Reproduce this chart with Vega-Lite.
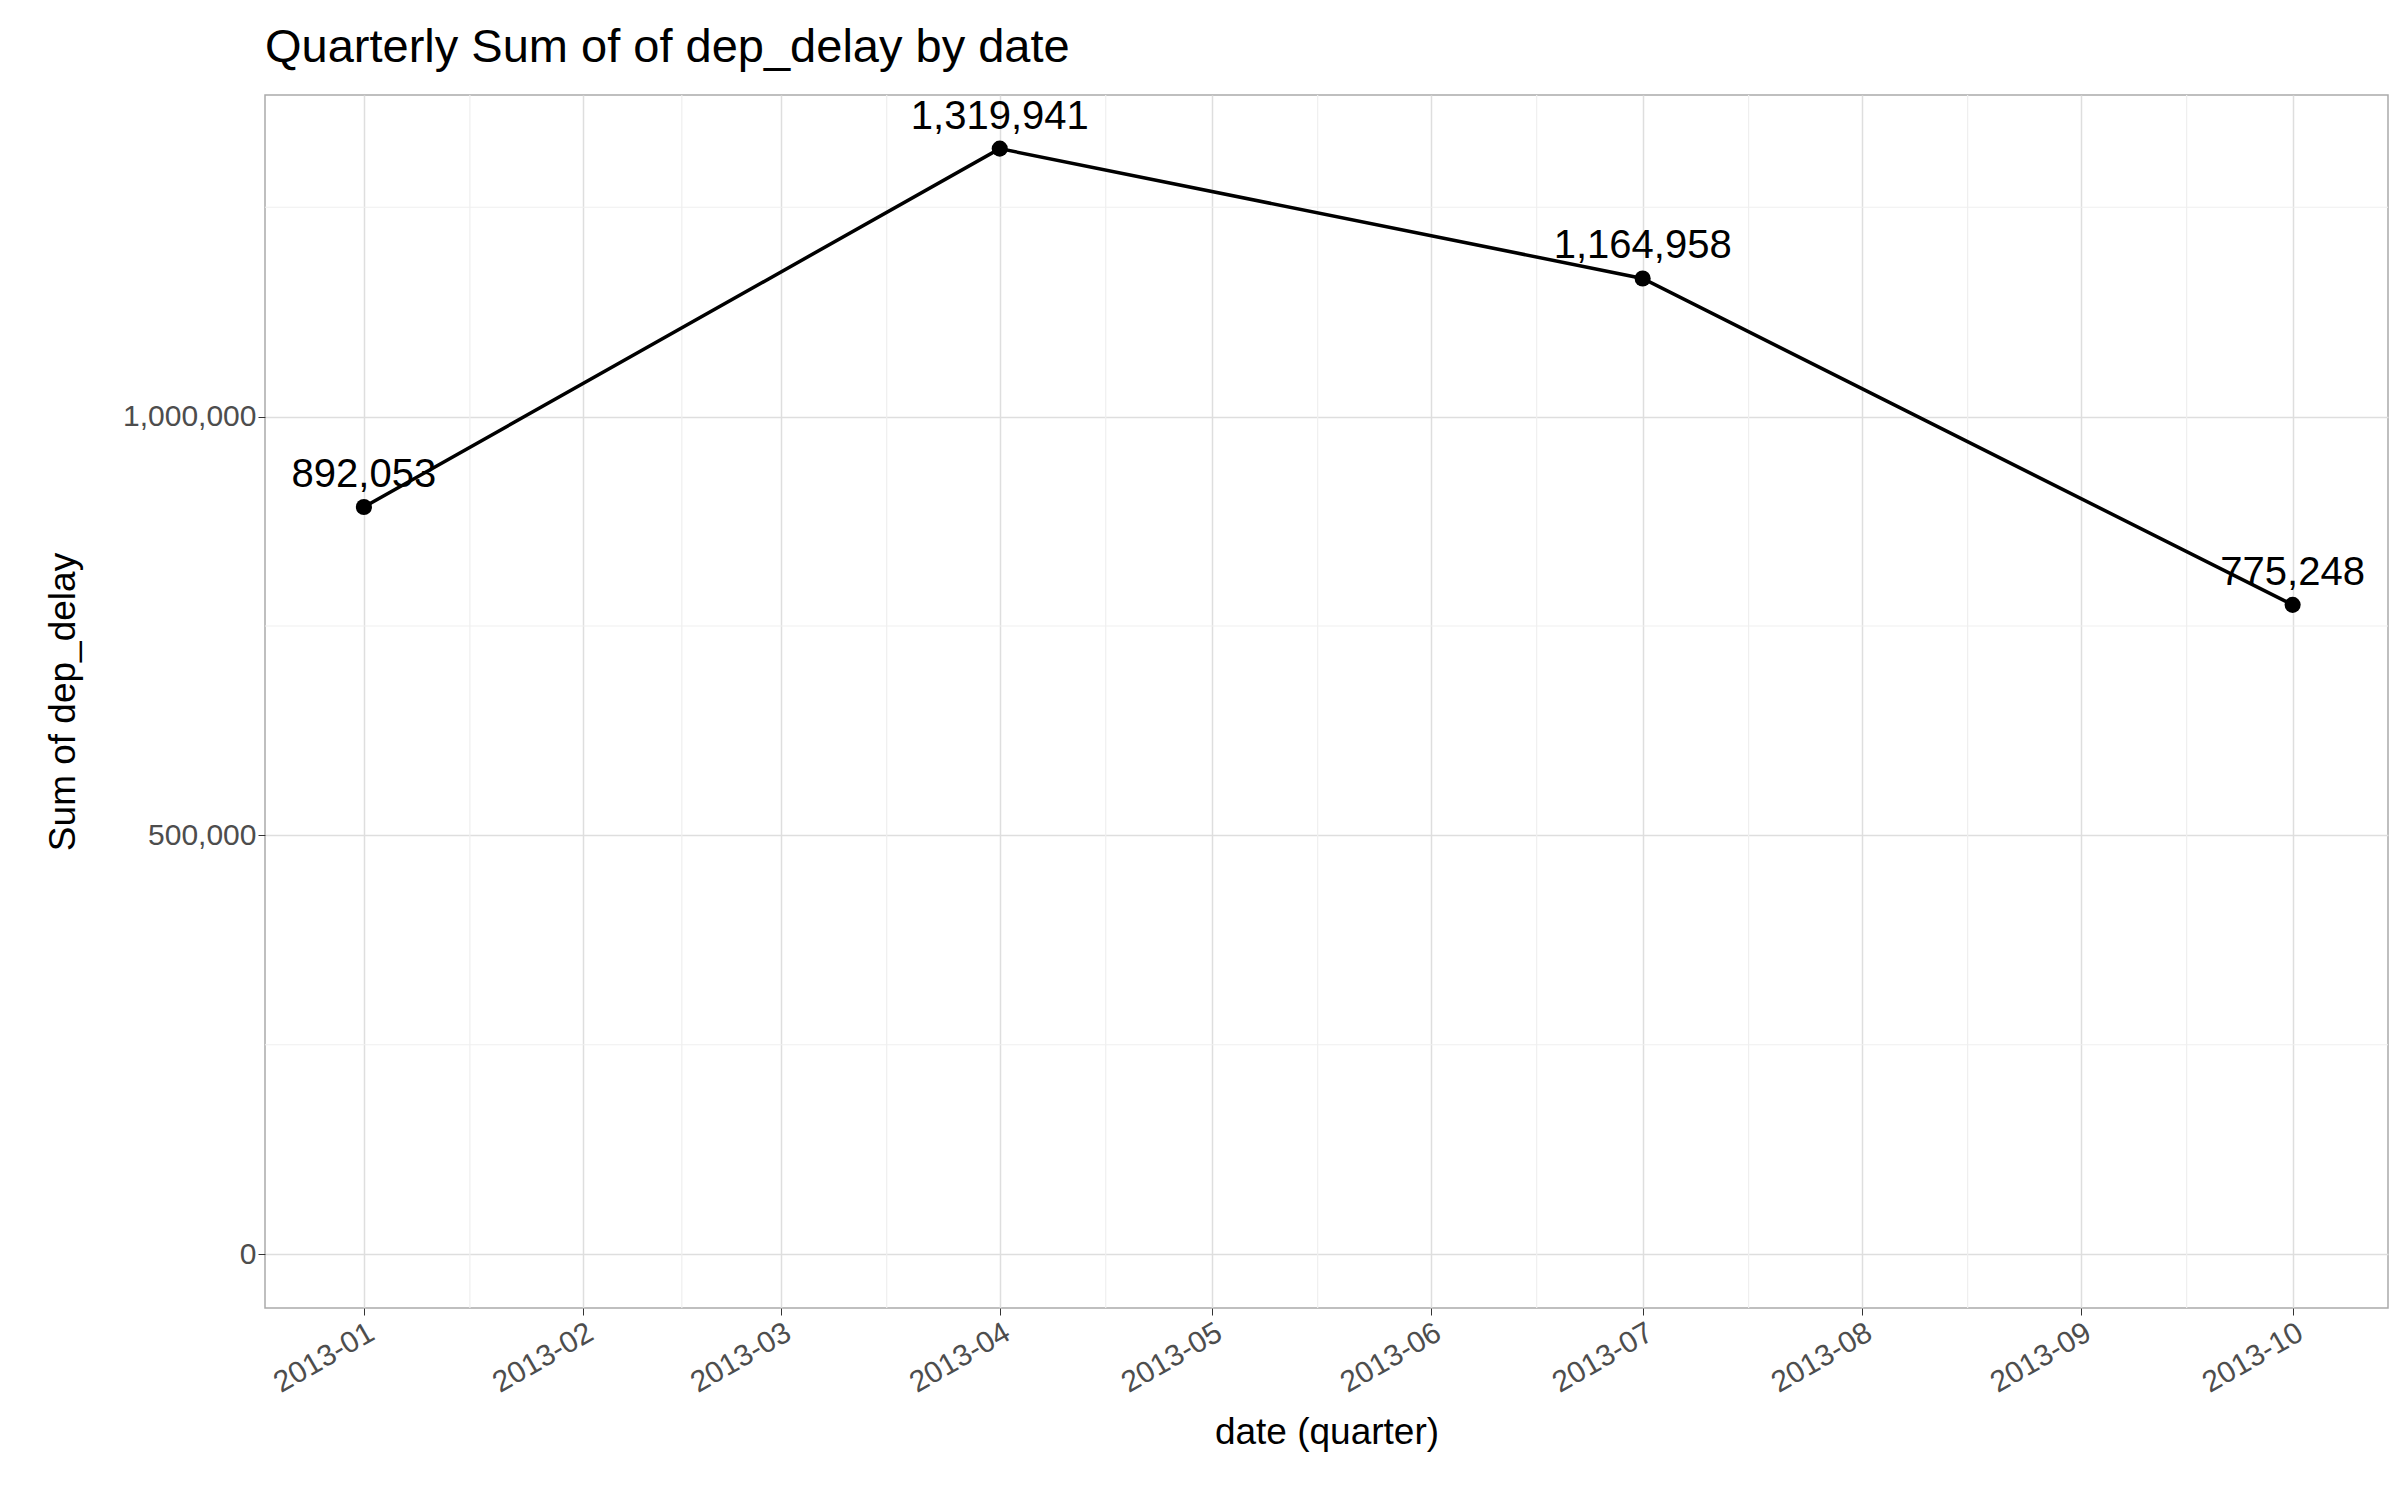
{
  "$schema": "https://vega.github.io/schema/vega-lite/v6.json",
  "autosize": {"type": "none"},
  "width": 2123,
  "height": 1213,
  "padding": {"left": 265, "top": 95, "right": 12, "bottom": 192},
  "background": "white",
  "config": {
    "font": "Liberation Sans",
    "view": {"stroke": "#ababab", "strokeWidth": 1.5},
    "axis": {"gridColor": "#dedede", "gridWidth": 1.5, "domain": false, "tickColor": "#333333", "tickSize": 7, "labelColor": "#4d4d4d", "labelFontSize": 30, "titleFontSize": 37, "titleFontWeight": "normal", "titleColor": "#000000"}
  },
  "title": {"text": "Quarterly Sum of of dep_delay by date", "anchor": "start", "frame": "group", "fontSize": 47, "fontWeight": "normal", "offset": 22, "color": "#000000"},
  "datasets": {
    "pts": [
      {"date": "2013-01-01", "value": 892053},
      {"date": "2013-04-01", "value": 1319941},
      {"date": "2013-07-01", "value": 1164958},
      {"date": "2013-10-01", "value": 775248}
    ],
    "minx": [
      {"d": "2013-01-16"}, {"d": "2013-02-15"}, {"d": "2013-03-16"}, {"d": "2013-04-16"},
      {"d": "2013-05-16"}, {"d": "2013-06-16"}, {"d": "2013-07-16"}, {"d": "2013-08-16"},
      {"d": "2013-09-16"}
    ],
    "miny": [{"v": 250000}, {"v": 750000}, {"v": 1250000}]
  },
  "layer": [
    {
      "data": {"name": "minx"},
      "mark": {"type": "rule", "color": "#efefef", "strokeWidth": 1.2},
      "encoding": {"x": {"field": "d", "type": "temporal", "scale": {"domain": ["2012-12-18", "2013-10-14T12:00"]}}}
    },
    {
      "data": {"name": "miny"},
      "mark": {"type": "rule", "color": "#efefef", "strokeWidth": 1.2},
      "encoding": {"y": {"field": "v", "type": "quantitative"}}
    },
    {
      "data": {"name": "pts"},
      "layer": [
        {"mark": {"type": "line", "color": "#000000", "strokeWidth": 3.5}},
        {"mark": {"type": "circle", "color": "#000000", "size": 260, "opacity": 1}},
        {"mark": {"type": "text", "fontSize": 40, "dy": -32, "color": "#000000"},
         "encoding": {"text": {"field": "value", "type": "quantitative", "format": ",d"}}}
      ],
      "encoding": {
        "x": {"field": "date", "type": "temporal", "title": "date (quarter)",
          "scale": {"domain": ["2012-12-18", "2013-10-14T12:00"]},
          "axis": {"format": "%Y-%m", "tickCount": {"interval": "month", "step": 1}, "labelAngle": -30, "labelAlign": "right", "labelBaseline": "top", "titlePadding": 16}},
        "y": {"field": "value", "type": "quantitative", "title": "Sum of dep_delay",
          "scale": {"domain": [-64300, 1384000], "nice": false, "zero": false},
          "axis": {"values": [0, 500000, 1000000], "format": ",d", "titlePadding": 40}}
      }
    }
  ]
}
